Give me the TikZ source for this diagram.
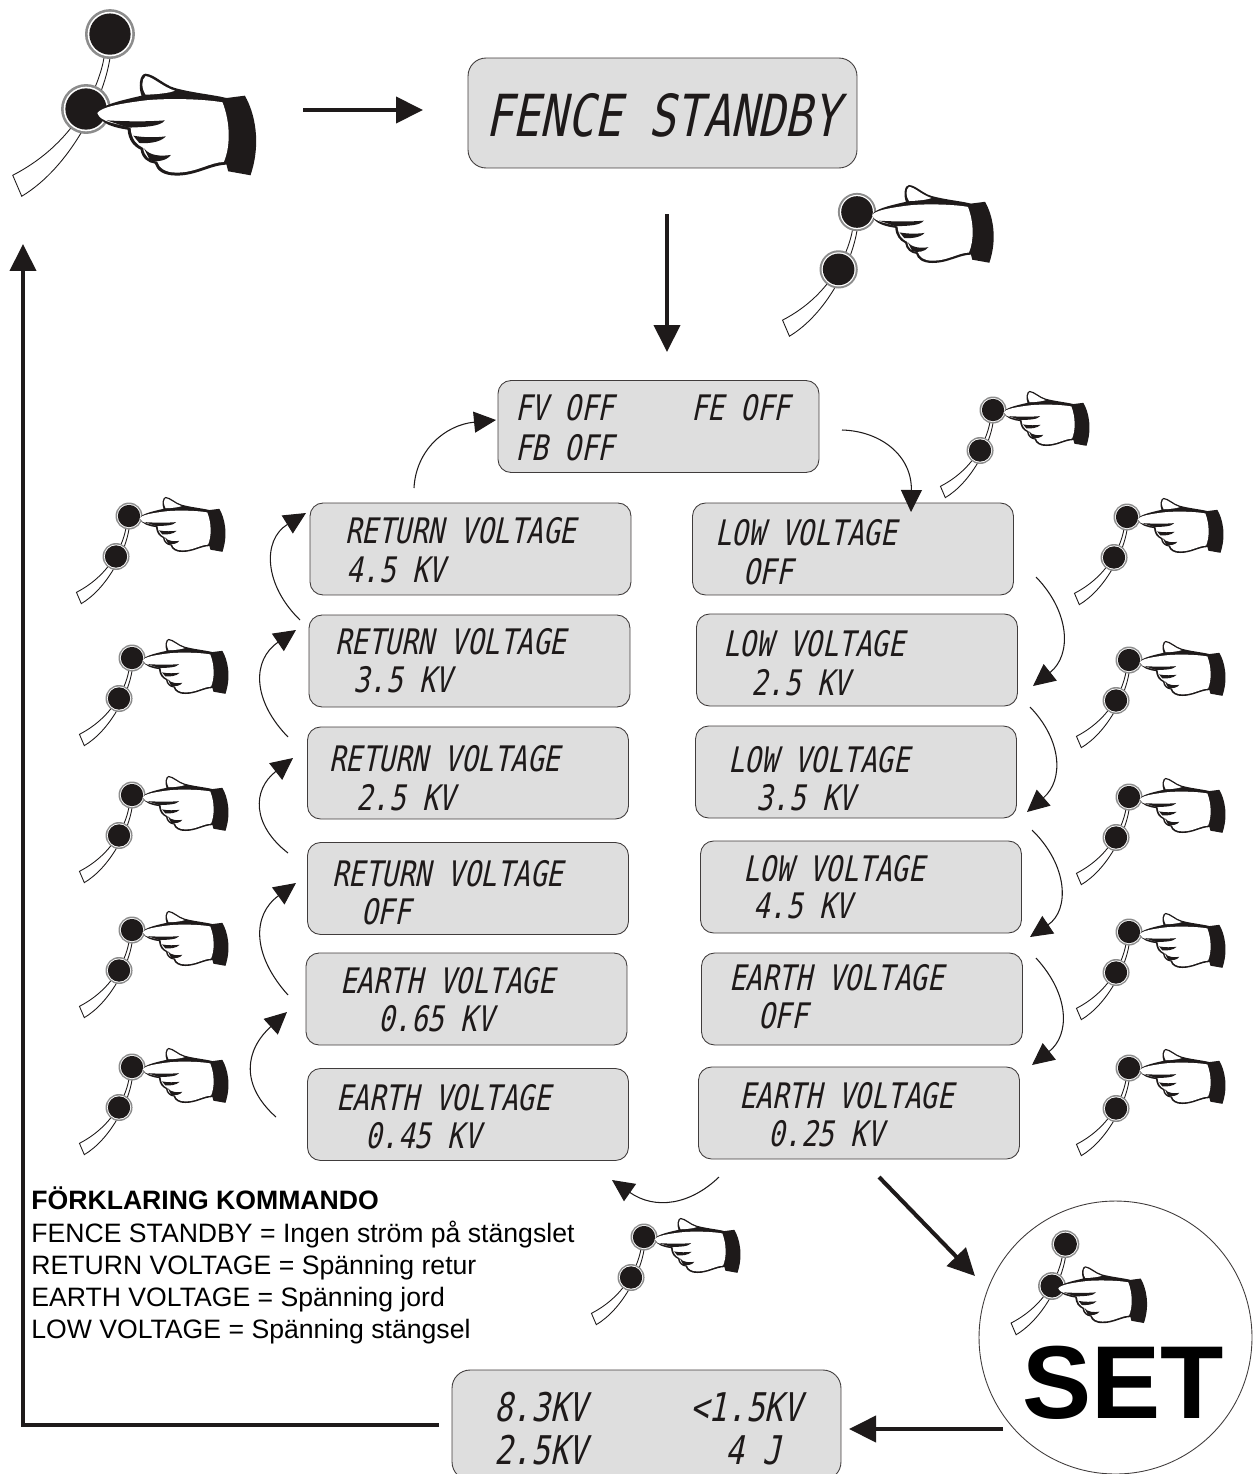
\documentclass[tikz,border=0pt]{standalone}
\usepackage{fontspec}
\setmainfont{Liberation Sans}
\newfontfamily\lcdfont[FakeSlant=0.21,FakeStretch=0.78]{DejaVu Sans Mono}
\usetikzlibrary{arrows.meta}
\definecolor{colInk}{RGB}{30,26,26}
\definecolor{colPanel}{RGB}{222,222,222}
% one push button, then the strap with its two buttons, then the hand
\newcommand{\drawbutton}[2]{
  \fill[black!45] (#1,#2) circle[radius=75];
  \fill[white] (#1,#2) circle[radius=67];
  \fill[colInk] (#1,#2) circle[radius=62];
}
\newcommand{\drawswitch}[2]{
  \begin{scope}[shift={(#1,#2)}]
    \draw[colInk,fill=white,line width=0.5pt] (-18,72) .. controls (-30,140) and (-90,320) .. (-292,424)
      -- (-265,487) .. controls (-120,400) and (-20,200) .. (0,72);
    \drawbutton{0}{0}
    \drawbutton{-72}{225}
  \end{scope}
}
\newcommand{\drawhand}[1]{
  \begin{scope}[shift={(#1-258,-328)}]
    % silhouette with cuff
    \fill[colInk] (292,340) .. controls (300,318) and (350,305) .. (425,288)
      .. controls (415,265) and (418,222) .. (437,222) .. controls (465,224) and (490,255) .. (525,265)
      .. controls (580,280) and (640,285) .. (680,295) -- (735,288)
      .. controls (765,340) and (785,430) .. (752,527) -- (685,515) -- (680,495)
      .. controls (630,497) and (590,528) .. (530,528) .. controls (490,528) and (470,512) .. (465,492)
      .. controls (445,490) and (425,475) .. (422,450) .. controls (400,440) and (385,420) .. (383,390)
      .. controls (350,385) and (300,375) .. (292,340) -- cycle;
    % thumb
    \fill[white] (437,229) .. controls (460,232) and (488,262) .. (525,273) .. controls (510,280) and (470,284) .. (437,285)
      .. controls (424,265) and (424,240) .. (437,229) -- cycle;
    % palm and fingers
    \fill[white] (292,340) .. controls (305,322) and (360,312) .. (430,303) .. controls (480,296) and (600,296) .. (668,308)
      .. controls (692,370) and (692,440) .. (672,487) .. controls (630,488) and (590,519) .. (530,519)
      .. controls (495,519) and (478,505) .. (472,486) .. controls (450,484) and (432,470) .. (430,445)
      .. controls (410,435) and (395,420) .. (392,385) .. controls (360,372) and (300,370) .. (292,340) -- cycle;
    % finger creases
    \fill[colInk] (320,362) .. controls (380,366) and (450,366) .. (495,362) .. controls (480,382) and (430,382) .. (385,384) -- cycle;
    \fill[colInk] (400,408) .. controls (430,414) and (470,414) .. (498,410) .. controls (480,430) and (440,432) .. (418,430) -- cycle;
    \fill[colInk] (432,446) .. controls (450,470) and (485,470) .. (513,466) .. controls (500,484) and (470,488) .. (450,482) -- cycle;
  \end{scope}
}
\tikzset{
  panel/.style={draw=colInk!85,line width=0.5pt,fill=colPanel,rounded corners=0.26cm,inner sep=0pt,minimum width=6.42cm,minimum height=1.84cm},
  widepanel/.style={panel,rounded corners=0.36cm,minimum width=7.78cm,minimum height=2.2cm},
  lcd/.style={anchor=base west,inner sep=0pt,xshift=-0.04cm,text=colInk,font=\lcdfont\fontsize{20}{22}\selectfont},
  lcdlarge/.style={lcd,xshift=-0.06cm,font=\lcdfont\fontsize{33}{35}\selectfont},
  lcdvalue/.style={lcd,font=\lcdfont\fontsize{22.5}{25}\selectfont},
  legend/.style={anchor=base west,inner sep=0pt,font=\fontsize{15.15}{18}\selectfont},
  bigarrow/.style={colInk,line width=2.3pt,-{Triangle[length=0.54cm,width=0.52cm]}},
  curvearrow/.style={colInk,line width=0.6pt,-{Triangle[length=0.44cm,width=0.42cm]}},
  pressup/.pic={\drawswitch{0}{0}\drawhand{25}},
  presslow/.pic={\drawswitch{72}{-225}\drawhand{0}},
}

\begin{document}
\begin{tikzpicture}[x=0.02cm,y=-0.02cm]
  \useasboundingbox (0,0) rectangle (1258,1474);
  \clip (0,0) rectangle (1258,1474);
  % Displays at the top
  \node[widepanel] (standby) at (662.5,113) {};
  \node[lcdlarge] (standbytxt) at (490,136) {FENCE STANDBY};
  \node[panel] (summary) at (658.5,426.5) {};
  \node[lcd] (fvoff) at (517,420) {FV OFF};
  \node[lcd] (feoff) at (693,420) {FE  OFF};
  \node[lcd] (fboff) at (517,460) {FB OFF};
  % Left column
  \node[panel] (ret45) at (470.5,549) {};
  \node[lcd] (ret45a) at (347,543) {RETURN VOLTAGE};
  \node[lcd] (ret45b) at (348,582) {4.5 KV};
  \node[panel] (ret35) at (469.5,661) {};
  \node[lcd] (ret35a) at (337,654) {RETURN VOLTAGE};
  \node[lcd] (ret35b) at (355,692) {3.5 KV};
  \node[panel] (ret25) at (468,773) {};
  \node[lcd] (ret25a) at (331,771) {RETURN VOLTAGE};
  \node[lcd] (ret25b) at (358,810) {2.5 KV};
  \node[panel] (retoff) at (468,888.5) {};
  \node[lcd] (retoffa) at (334,886) {RETURN VOLTAGE};
  \node[lcd] (retoffb) at (363,924) {OFF};
  \node[panel] (ear65) at (466.5,999) {};
  \node[lcd] (ear65a) at (342,993) {EARTH VOLTAGE};
  \node[lcd] (ear65b) at (380,1031) {0.65 KV};
  \node[panel] (ear45) at (468,1114.5) {};
  \node[lcd] (ear45a) at (338,1110) {EARTH VOLTAGE};
  \node[lcd] (ear45b) at (367,1148) {0.45 KV};
  % Right column
  \node[panel] (lowoff) at (853,549) {};
  \node[lcd] (lowoffa) at (717,545) {LOW VOLTAGE};
  \node[lcd] (lowoffb) at (745,584) {OFF};
  \node[panel] (low25) at (857,660) {};
  \node[lcd] (low25a) at (725,656) {LOW VOLTAGE};
  \node[lcd] (low25b) at (753,695) {2.5 KV};
  \node[panel] (low35) at (856,772) {};
  \node[lcd] (low35a) at (730,772) {LOW VOLTAGE};
  \node[lcd] (low35b) at (758,810) {3.5 KV};
  \node[panel] (low45) at (861,887) {};
  \node[lcd] (low45a) at (745,881) {LOW VOLTAGE};
  \node[lcd] (low45b) at (755,918) {4.5 KV};
  \node[panel] (earoff) at (862,999) {};
  \node[lcd] (earoffa) at (731,990) {EARTH VOLTAGE};
  \node[lcd] (earoffb) at (760,1028) {OFF};
  \node[panel] (ear25) at (859,1113) {};
  \node[lcd] (ear25a) at (741,1108) {EARTH VOLTAGE};
  \node[lcd] (ear25b) at (770,1146) {0.25 KV};
  % Values display
  \node[widepanel] (values) at (646.5,1425) {};
  \node[lcdvalue] (val83) at (496,1421) {8.3KV};
  \node[lcdvalue] (val15) at (692,1421) {<1.5KV};
  \node[lcdvalue] (val25) at (496,1464) {2.5KV};
  \node[lcdvalue] (val4j) at (727,1464) {4 J};
  % Legend
  \node[legend,font=\fontsize{15.15}{18}\selectfont\bfseries] (legendhead) at (31,1209) {FÖRKLARING KOMMANDO};
  \node[legend] (legendone) at (31,1242) {FENCE STANDBY = Ingen ström på stängslet};
  \node[legend] (legendtwo) at (31,1274) {RETURN VOLTAGE = Spänning retur};
  \node[legend] (legendthree) at (31,1306) {EARTH VOLTAGE = Spänning jord};
  \node[legend] (legendfour) at (31,1338) {LOW VOLTAGE = Spänning stängsel};
  % SET circle
  \node[circle,draw=colInk!85,line width=0.5pt,minimum size=5.46cm,inner sep=0pt] (setring) at (1115.5,1337.5) {};
  \node[anchor=base west,inner sep=0pt,font=\fontsize{59}{60}\selectfont\bfseries] (settxt) at (1022,1418) {SET};
  % Switches with a hand
  \pic[scale=0.333] at (86,109) {presslow};
  \pic[scale=0.255] at (857,212) {pressup};
  \pic[scale=0.18] at (993,410) {pressup};
  \pic[scale=0.186] at (1052,1286) {presslow};
  \pic[scale=0.18] at (644,1237) {pressup};
  \foreach \hx/\hy in {129/516,132/658,132/795,132/930,132/1067,1127/517,1129/660,1129/797,1129/932,1129/1068}
    \pic[scale=0.18] at (\hx,\hy) {pressup};
  % Straight arrows
  \coordinate (pressout) at (303,110);
  \coordinate (standbyin) at (423,110);
  \draw[bigarrow] (pressout) -- (standbyin);
  \coordinate (standbyout) at (667,214);
  \coordinate (summaryin) at (667,352);
  \draw[bigarrow] (standbyout) -- (summaryin);
  \coordinate (setin) at (975,1276);
  \coordinate (listout) at (879,1177);
  \draw[bigarrow] (listout) -- (setin);
  \coordinate (setout) at (1003,1429);
  \coordinate (valuesin) at (849,1429);
  \draw[bigarrow] (setout) -- (valuesin);
  \coordinate (valuesout) at (439,1425);
  \coordinate (loopcorner) at (23,1425);
  \coordinate (looptip) at (23,244);
  \draw[bigarrow] (valuesout) -- (loopcorner) -- (looptip);
  % Curved arrows, right column
  \coordinate (sumout) at (842,430);
  \coordinate (lowin) at (911,512);
  \draw[curvearrow] (sumout) .. controls (880,431) and (912,455) .. (lowin);
  \coordinate (rda) at (1036,577);
  \coordinate (rdb) at (1033,686);
  \draw[curvearrow] (rda) .. controls (1070,612) and (1072,655) .. (rdb);
  \coordinate (rdc) at (1030,707);
  \coordinate (rdd) at (1027,812);
  \draw[curvearrow] (rdc) .. controls (1062,740) and (1064,780) .. (rdd);
  \coordinate (rde) at (1032,830);
  \coordinate (rdf) at (1030,937);
  \draw[curvearrow] (rde) .. controls (1068,865) and (1070,910) .. (rdf);
  \coordinate (rdg) at (1036,958);
  \coordinate (rdh) at (1032,1065);
  \draw[curvearrow] (rdg) .. controls (1070,995) and (1070,1035) .. (rdh);
  % Curved arrows, left column
  \coordinate (bottomout) at (719,1177);
  \coordinate (bottomin) at (612,1180);
  \draw[curvearrow] (bottomout) .. controls (690,1205) and (655,1210) .. (bottomin);
  \coordinate (lua) at (276,1117);
  \coordinate (lub) at (287,1012);
  \draw[curvearrow] (lua) .. controls (240,1085) and (245,1050) .. (lub);
  \coordinate (luc) at (288,995);
  \coordinate (lud) at (296,883);
  \draw[curvearrow] (luc) .. controls (252,955) and (252,915) .. (lud);
  \coordinate (lue) at (288,853);
  \coordinate (luf) at (293,758);
  \draw[curvearrow] (lue) .. controls (252,825) and (252,790) .. (luf);
  \coordinate (lug) at (288,737);
  \coordinate (luh) at (296,630);
  \draw[curvearrow] (lug) .. controls (252,700) and (252,660) .. (luh);
  \coordinate (lui) at (300,620);
  \coordinate (luj) at (306,513);
  \draw[curvearrow] (lui) .. controls (264,585) and (262,540) .. (luj);
  \coordinate (sumback) at (414,488);
  \coordinate (sumin) at (496,420);
  \draw[curvearrow] (sumback) .. controls (416,450) and (445,425) .. (sumin);
\end{tikzpicture}
\end{document}
